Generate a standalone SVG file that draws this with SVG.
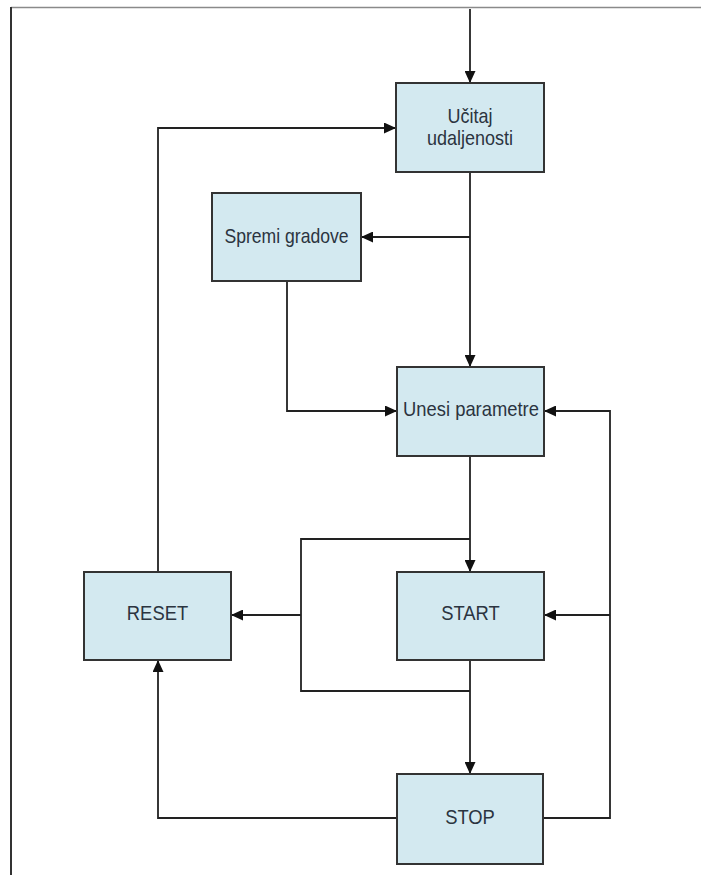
<svg xmlns="http://www.w3.org/2000/svg" width="701" height="875" viewBox="0 0 701 875">
<defs>
<style>
.box{fill:#d3e9f0;stroke:#333;stroke-width:2}
.lbl{font-family:"Liberation Sans",Arial,sans-serif;font-size:20px;fill:#2b3440;text-anchor:middle}
.c{fill:none;stroke:#222;stroke-width:1.8}
.a{marker-end:url(#ah)}
</style>
<marker id="ah" markerUnits="userSpaceOnUse" markerWidth="12" markerHeight="11" refX="11" refY="5.5" orient="auto">
<path d="M0,0 L12,5.5 L0,11 Z" fill="#111"/>
</marker>
</defs>
<rect width="701" height="875" fill="#fff"/>
<path d="M11,7.5 H701" fill="none" stroke="#8a8a8a" stroke-width="1.5"/>
<path d="M11,7 V875" fill="none" stroke="#333" stroke-width="2"/>
<g id="connectors">
<path class="c a" d="M470,9 V82"/>
<path class="c a" d="M470,172 V366"/>
<path class="c a" d="M470,237 H362"/>
<path class="c a" d="M287,281 V411 H396"/>
<path class="c a" d="M470,456 V571"/>
<path class="c" d="M470,539 H301 V691 H470"/>
<path class="c a" d="M301,615 H232"/>
<path class="c a" d="M470,660 V773"/>
<path class="c a" d="M158,572 V128 H395"/>
<path class="c a" d="M397,818 H158 V661"/>
<path class="c a" d="M543,818 H610 V411 H545"/>
<path class="c a" d="M610,615 H545"/>
</g>
<g id="ucitaj"><rect class="box" x="396" y="83" width="148" height="89"/><text class="lbl" transform="translate(470,123) scale(0.9,1)">Učitaj</text><text class="lbl" transform="translate(470,145) scale(0.9,1)">udaljenosti</text></g>
<g id="spremi"><rect class="box" x="212" y="193" width="149" height="88"/><text class="lbl" transform="translate(286.5,243) scale(0.88,1)">Spremi gradove</text></g>
<g id="unesi"><rect class="box" x="397" y="367" width="147" height="89"/><text class="lbl" transform="translate(471,416) scale(0.92,1)">Unesi parametre</text></g>
<g id="reset"><rect class="box" x="84" y="572" width="147" height="88"/><text class="lbl" transform="translate(157.5,620) scale(0.92,1)">RESET</text></g>
<g id="start"><rect class="box" x="397" y="572" width="147" height="88"/><text class="lbl" transform="translate(470.5,620) scale(0.92,1)">START</text></g>
<g id="stop"><rect class="box" x="397" y="774" width="146" height="90"/><text class="lbl" transform="translate(470,824) scale(0.92,1)">STOP</text></g>
</svg>
